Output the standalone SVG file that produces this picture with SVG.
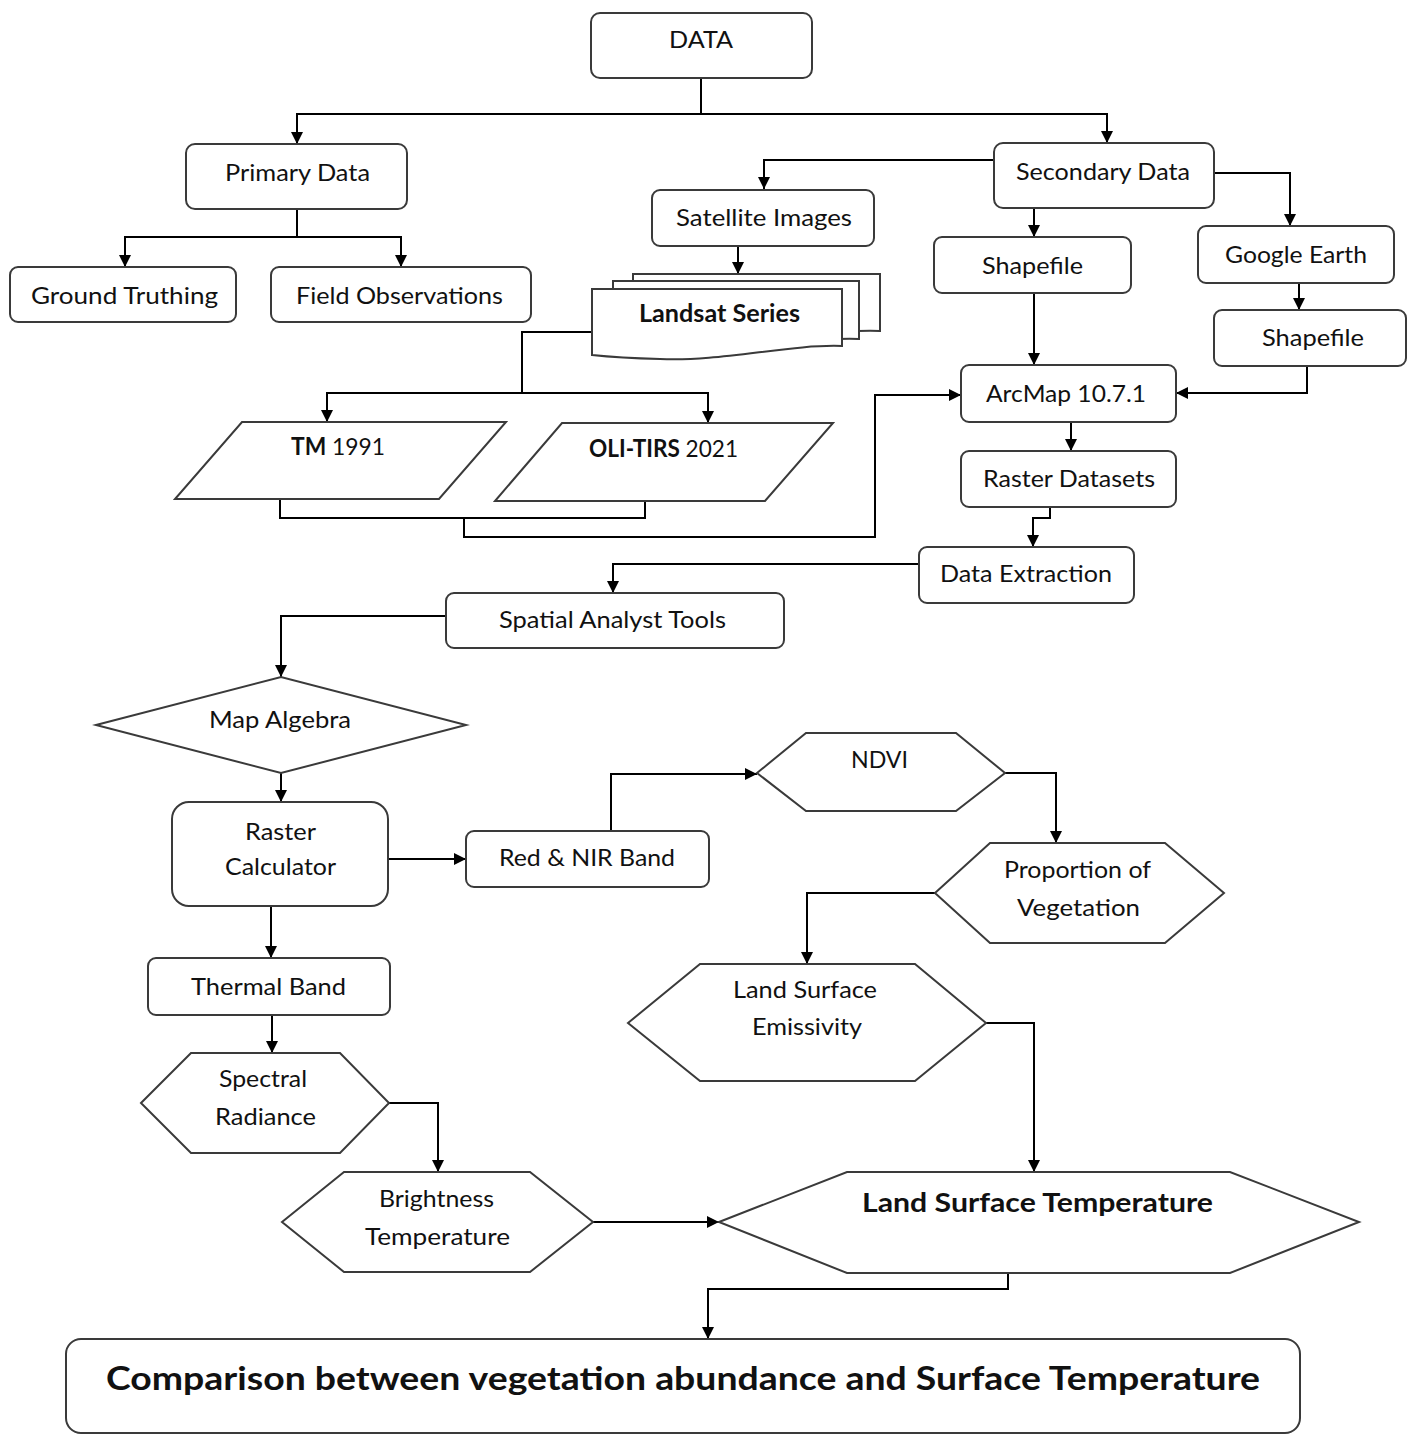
<svg xmlns="http://www.w3.org/2000/svg" width="1407" height="1435" viewBox="0 0 1407 1435">
<style>
.n{fill:#fff;stroke:#3a3a3a;stroke-width:2}
.t{font-family:Lato,"Liberation Sans",sans-serif;font-size:24px;fill:#111}
.b{font-weight:bold}
.c{fill:none;stroke:#000;stroke-width:2}
.a{marker-end:url(#ar)}
</style>
<defs>
<marker id="ar" viewBox="0 0 12 12" refX="12" refY="6" markerWidth="13" markerHeight="12" markerUnits="userSpaceOnUse" orient="auto">
<path d="M0,0 L12,6 L0,12 z" fill="#000"/>
</marker>
</defs>
<rect width="1407" height="1435" fill="#fff"/>
<g id="connectors">
<path class="c a" d="M701,78 V114 H297 V144"/>
<path class="c a" d="M701,114 H1107 V143"/>
<path class="c a" d="M297,209 V237 H125 V267"/>
<path class="c a" d="M297,237 H401 V267"/>
<path class="c a" d="M994,160 H764 V189"/>
<path class="c a" d="M1034,208 V237"/>
<path class="c a" d="M1214,173 H1290 V226"/>
<path class="c a" d="M1299,283 V310"/>
<path class="c a" d="M738,246 V274"/>
<path class="c a" d="M592,332 H522 V393 H327 V422"/>
<path class="c a" d="M522,393 H708 V423"/>
<path class="c" d="M280,499 V518 H645 V501"/>
<path class="c a" d="M464,518 V537 H875 V395 H961"/>
<path class="c a" d="M1034,293 V365"/>
<path class="c a" d="M1307,366 V393 H1176"/>
<path class="c a" d="M1071,422 V451"/>
<path class="c a" d="M1050,507 V518 H1033 V547"/>
<path class="c a" d="M919,564 H613 V593"/>
<path class="c a" d="M446,616 H281 V677"/>
<path class="c a" d="M281,773 V802"/>
<path class="c a" d="M388,859 H466"/>
<path class="c a" d="M611,831 V774 H757"/>
<path class="c a" d="M1005,773 H1056 V843"/>
<path class="c a" d="M935,893 H807 V964"/>
<path class="c a" d="M986,1023 H1034 V1172"/>
<path class="c a" d="M271,906 V958"/>
<path class="c a" d="M272,1015 V1053"/>
<path class="c a" d="M389,1103 H438 V1172"/>
<path class="c a" d="M593,1222 H719"/>
<path class="c a" d="M1008,1273 V1289 H708 V1339"/>
</g>
<g id="data"><rect class="n" x="591" y="13" width="221" height="65" rx="9"/><text class="t" x="669" y="48" textLength="64" lengthAdjust="spacingAndGlyphs">DATA</text></g>
<g id="primary"><rect class="n" x="186" y="144" width="221" height="65" rx="9"/><text class="t" x="225" y="181" textLength="145" lengthAdjust="spacingAndGlyphs">Primary Data</text></g>
<g id="ground"><rect class="n" x="10" y="267" width="226" height="55" rx="8"/><text class="t" x="31" y="304" textLength="187" lengthAdjust="spacingAndGlyphs">Ground Truthing</text></g>
<g id="field"><rect class="n" x="271" y="267" width="260" height="55" rx="8"/><text class="t" x="296" y="304" textLength="207" lengthAdjust="spacingAndGlyphs">Field Observations</text></g>
<g id="secondary"><rect class="n" x="994" y="143" width="220" height="65" rx="9"/><text class="t" x="1016" y="180" textLength="174" lengthAdjust="spacingAndGlyphs">Secondary Data</text></g>
<g id="satellite"><rect class="n" x="652" y="190" width="222" height="56" rx="8"/><text class="t" x="676" y="226" textLength="176" lengthAdjust="spacingAndGlyphs">Satellite Images</text></g>
<g id="shapefile1"><rect class="n" x="934" y="237" width="197" height="56" rx="8"/><text class="t" x="982" y="274" textLength="101" lengthAdjust="spacingAndGlyphs">Shapefile</text></g>
<g id="google"><rect class="n" x="1198" y="226" width="196" height="57" rx="8"/><text class="t" x="1225" y="263" textLength="142" lengthAdjust="spacingAndGlyphs">Google Earth</text></g>
<g id="shapefile2"><rect class="n" x="1214" y="310" width="192" height="56" rx="8"/><text class="t" x="1262" y="346" textLength="102" lengthAdjust="spacingAndGlyphs">Shapefile</text></g>
<g id="landsat">
<path class="n" d="M633,274 H880 V331 C840,329 800,340 760,342 L633,342 Z"/>
<path class="n" d="M613,281 H859 V339 C820,337 780,348 740,350 L613,350 Z"/>
<path class="n" d="M592,289 H842 V346 C790,344 720,362 660,359 Q620,358 592,355 Z"/>
<text class="t b" x="639" y="322" textLength="161" lengthAdjust="spacingAndGlyphs">Landsat Series</text>
</g>
<g id="tm"><polygon class="n" points="242,422 506,422 439,499 175,499"/><text class="t" x="291" y="455" textLength="94" lengthAdjust="spacingAndGlyphs"><tspan class="b">TM</tspan> 1991</text></g>
<g id="oli"><polygon class="n" points="562,423 833,423 765,501 495,501"/><text class="t" x="589" y="457" textLength="149" lengthAdjust="spacingAndGlyphs"><tspan class="b">OLI-TIRS</tspan> 2021</text></g>
<g id="arcmap"><rect class="n" x="961" y="365" width="215" height="57" rx="8"/><text class="t" x="986" y="402" textLength="160" lengthAdjust="spacingAndGlyphs">ArcMap 10.7.1</text></g>
<g id="raster-datasets"><rect class="n" x="961" y="451" width="215" height="56" rx="8"/><text class="t" x="983" y="487" textLength="172" lengthAdjust="spacingAndGlyphs">Raster Datasets</text></g>
<g id="data-extraction"><rect class="n" x="919" y="547" width="215" height="56" rx="8"/><text class="t" x="940" y="582" textLength="172" lengthAdjust="spacingAndGlyphs">Data Extraction</text></g>
<g id="spatial"><rect class="n" x="446" y="593" width="338" height="55" rx="8"/><text class="t" x="499" y="628" textLength="227" lengthAdjust="spacingAndGlyphs">Spatial Analyst Tools</text></g>
<g id="map-algebra"><polygon class="n" points="96,725 281,677 466,725 281,773"/><text class="t" x="209" y="728" textLength="142" lengthAdjust="spacingAndGlyphs">Map Algebra</text></g>
<g id="raster-calc"><rect class="n" x="172" y="802" width="216" height="104" rx="17"/><text class="t" x="245" y="840" textLength="71" lengthAdjust="spacingAndGlyphs">Raster</text><text class="t" x="225" y="875" textLength="111" lengthAdjust="spacingAndGlyphs">Calculator</text></g>
<g id="red-nir"><rect class="n" x="466" y="831" width="243" height="56" rx="8"/><text class="t" x="499" y="866" textLength="176" lengthAdjust="spacingAndGlyphs">Red &amp; NIR Band</text></g>
<g id="ndvi"><polygon class="n" points="757,773 806,733 956,733 1005,773 956,811 806,811"/><text class="t" x="851" y="768" textLength="57" lengthAdjust="spacingAndGlyphs">NDVI</text></g>
<g id="proportion"><polygon class="n" points="935,893 990,843 1165,843 1224,893 1165,943 990,943"/><text class="t" x="1004" y="878" textLength="147" lengthAdjust="spacingAndGlyphs">Proportion of</text><text class="t" x="1017" y="916" textLength="123" lengthAdjust="spacingAndGlyphs">Vegetation</text></g>
<g id="lse"><polygon class="n" points="628,1023 700,964 915,964 986,1023 915,1081 700,1081"/><text class="t" x="733" y="998" textLength="144" lengthAdjust="spacingAndGlyphs">Land Surface</text><text class="t" x="752" y="1035" textLength="110" lengthAdjust="spacingAndGlyphs">Emissivity</text></g>
<g id="thermal"><rect class="n" x="148" y="958" width="242" height="57" rx="8"/><text class="t" x="191" y="995" textLength="155" lengthAdjust="spacingAndGlyphs">Thermal Band</text></g>
<g id="spectral"><polygon class="n" points="141,1103 191,1053 340,1053 389,1103 340,1153 191,1153"/><text class="t" x="219" y="1087" textLength="88" lengthAdjust="spacingAndGlyphs">Spectral</text><text class="t" x="215" y="1125" textLength="101" lengthAdjust="spacingAndGlyphs">Radiance</text></g>
<g id="brightness"><polygon class="n" points="282,1222 344,1172 530,1172 593,1222 530,1272 344,1272"/><text class="t" x="379" y="1207" textLength="115" lengthAdjust="spacingAndGlyphs">Brightness</text><text class="t" x="365" y="1245" textLength="145" lengthAdjust="spacingAndGlyphs">Temperature</text></g>
<g id="lst"><polygon class="n" points="719,1222 847,1172 1230,1172 1359,1222 1230,1273 847,1273"/><text class="t b" x="862" y="1212" style="font-size:27px" textLength="351" lengthAdjust="spacingAndGlyphs">Land Surface Temperature</text></g>
<g id="comparison"><rect class="n" x="66" y="1339" width="1234" height="94" rx="15"/><text class="t b" x="106" y="1390" style="font-size:33px" textLength="1154" lengthAdjust="spacingAndGlyphs">Comparison between vegetation abundance and Surface Temperature</text></g>
</svg>
